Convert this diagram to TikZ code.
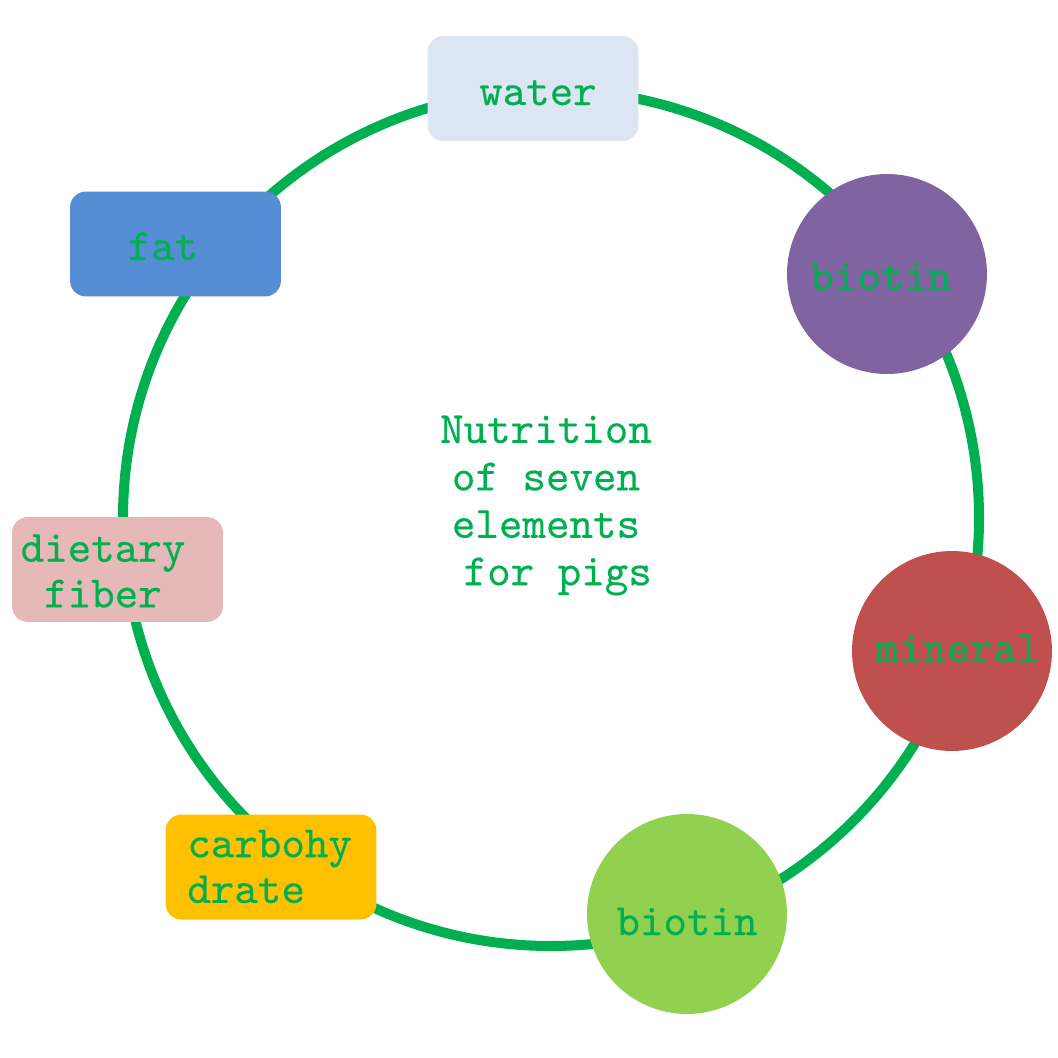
\documentclass[tikz,border=0pt]{standalone}
\usepackage{fontspec}
\newfontfamily\lblfont{lmmono10-regular.otf}[FakeBold=0.3]
\definecolor{txtgreen}{HTML}{00B050}
\definecolor{cWater}{HTML}{DCE6F2}
\definecolor{cFat}{HTML}{558ED5}
\definecolor{cFiber}{HTML}{E6B9B8}
\definecolor{cCarb}{HTML}{FFC000}
\definecolor{cBioG}{HTML}{92D050}
\definecolor{cMin}{HTML}{C0504D}
\definecolor{cBioP}{HTML}{8064A2}
\begin{document}
\begin{tikzpicture}[x=0.02cm,y=-0.02cm,
  ring/.style={draw=txtgreen, line width=5.7pt},
  boxnode/.style={rectangle, rounded corners=0.32cm, inner sep=0pt, minimum width=4.22cm, minimum height=2.1cm},
  disc/.style={circle, inner sep=0pt, minimum size=4cm},
  lbl/.style={text=txtgreen, inner sep=0pt, font=\lblfont\fontsize{25.5}{26}\selectfont},
  title/.style={text=txtgreen, inner sep=0pt, align=center, font=\lblfont\fontsize{25.5}{27}\selectfont}]
\useasboundingbox (0,0) rectangle (1058,1058);
\coordinate (O) at (551,518);
\draw[ring] (O) circle [radius=428];
% shapes
\node[boxnode, fill=cWater] (water) at (533,88.5) {};
\node[boxnode, fill=cFat] (fat) at (175.5,244) {};
\node[boxnode, fill=cFiber] (fiber) at (117.5,569.5) {};
\node[boxnode, fill=cCarb] (carb) at (271,867) {};
\node[disc, fill=cBioP] (bioP) at (887,274) {};
\node[disc, fill=cMin] (mineral) at (952,651) {};
\node[disc, fill=cBioG] (bioG) at (687,914) {};
% labels
\node[lbl, anchor=base] (waterT) at (538,105) {water};
\node[lbl, anchor=base] (fatT) at (163,260) {fat};
\node[lbl, anchor=base] (bioPT) at (881,290) {biotin};
\node[lbl, anchor=base] (mineralT) at (958,662) {mineral};
\node[lbl, anchor=base] (bioGT) at (687,935) {biotin};
\node[lbl, align=center, anchor=center] (fiberT) at (103,571) {dietary\\fiber};
\node[lbl, align=left, anchor=west] (carbT) at (187,866.5) {carbohy\\drate};
\node[title, anchor=center] (center) at (546,505.5) {Nutrition\\of seven\\elements\\\hphantom{x}for pigs};
\end{tikzpicture}
\end{document}
